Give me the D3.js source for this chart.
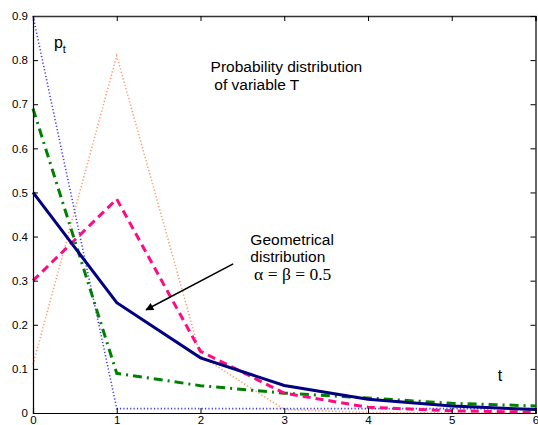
<!DOCTYPE html>
<html>
<head>
<meta charset="utf-8">
<script src="https://cdn.jsdelivr.net/npm/d3@7"></script>
<style>
  html, body { margin: 0; padding: 0; background: #fff; }
  svg { display: block; }
</style>
</head>
<body>
<script>
// ---- data ----
const tValues = [0, 1, 2, 3, 4, 5, 6];
const geometric = [0.5, 0.25, 0.125, 0.0625, 0.031, 0.0156, 0.0078];
const pinkSeries = [0.30, 0.485, 0.14, 0.045, 0.013, 0.005, 0.002];
const greenSeries = [0.69, 0.09, 0.062, 0.045, 0.034, 0.022, 0.016];
const blueSeries = [0.9, 0.01, 0.01, 0.01, 0.01, 0.01, 0.01];
const orangeSeries = [0.11, 0.81, 0.13, 0.008, 0.001, 0.0, 0.0];
const xTicks = [0, 1, 2, 3, 4, 5, 6];
const yTicks = [0, 0.1, 0.2, 0.3, 0.4, 0.5, 0.6, 0.7, 0.8, 0.9];

const W = 538, H = 425;
const margin = {left: 33, right: 2.5, top: 16, bottom: 12};

const svg = d3.select("body").append("svg").attr("width", W).attr("height", H);

const x = d3.scaleLinear().domain([0, 6]).range([margin.left, W - margin.right]);
const y = d3.scaleLinear().domain([0, 0.9]).range([H - margin.bottom, margin.top]);

const series = [
  {vals: orangeSeries, color: "#ff9a6a", width: 1.6, dash: "1.2,2.2"},
  {vals: blueSeries, color: "#3b3bff", width: 1.6, dash: "1.2,2.2"},
  {vals: greenSeries, color: "#008000", width: 3, dash: "9,5,2,5"},
  {vals: pinkSeries, color: "#ff0a84", width: 3, dash: "8,5"},
  {vals: geometric, color: "#000080", width: 3, dash: null}
];

const line = d3.line().x((d, i) => x(tValues[i])).y(d => y(d));

series.forEach(s => {
  const p = svg.append("path").datum(s.vals)
    .attr("d", line)
    .attr("fill", "none")
    .attr("stroke", s.color)
    .attr("stroke-width", s.width)
    .attr("stroke-linejoin", "miter");
  if (s.dash) p.attr("stroke-dasharray", s.dash);
});

// axes (box with inward ticks)
const font = "'Liberation Sans', Arial, sans-serif";
const gL = svg.append("g").attr("transform", `translate(${margin.left},0)`)
  .call(d3.axisLeft(y).tickValues(yTicks).tickSize(-5).tickPadding(5).tickFormat(d => d === 0 ? "0" : d3.format(".1f")(d)));
const gB = svg.append("g").attr("transform", `translate(0,${H - margin.bottom})`)
  .call(d3.axisBottom(x).tickValues(xTicks).tickSize(-5).tickPadding(3).tickFormat(d3.format("d")));
const gT = svg.append("g").attr("transform", `translate(0,${margin.top})`)
  .call(d3.axisTop(x).tickValues(xTicks).tickSize(-5).tickFormat(""));
const gR = svg.append("g").attr("transform", `translate(${W - margin.right},0)`)
  .call(d3.axisRight(y).tickValues(yTicks).tickSize(-5).tickFormat(""));

[gL, gB, gT, gR].forEach(g => {
  g.select(".domain").attr("stroke", "#000").attr("stroke-width", 1.2);
  g.selectAll(".tick line").attr("stroke", "#000").attr("stroke-width", 1);
  g.selectAll("text").attr("font-family", font).attr("font-size", 11.5).attr("fill", "#000");
});
gT.select(".domain").attr("stroke", "#333").attr("stroke-width", 1.5);

// annotations
const ann = svg.append("g").attr("font-family", font).attr("fill", "#000");

const pt = ann.append("text").attr("x", x(0.25)).attr("y", y(0.828)).attr("font-size", 16);
pt.append("tspan").text("p");
pt.append("tspan").attr("font-size", 11).attr("dy", 5).text("t");

ann.append("text").attr("x", x(2.12)).attr("y", y(0.772)).attr("font-size", 15.5).text("Probability distribution");
ann.append("text").attr("x", x(2.165)).attr("y", y(0.732)).attr("font-size", 15.5).text("of variable T");

ann.append("text").attr("x", x(2.595)).attr("y", y(0.381)).attr("font-size", 15.5).text("Geometrical");
ann.append("text").attr("x", x(2.595)).attr("y", y(0.342)).attr("font-size", 15.5).text("distribution");
ann.append("text").attr("x", x(2.64)).attr("y", y(0.301)).attr("font-size", 17.5)
  .attr("font-family", "'Liberation Serif', 'Times New Roman', serif").text("α = β = 0.5");

ann.append("text").attr("x", x(5.55)).attr("y", y(0.073)).attr("font-size", 16).text("t");

// arrow
svg.append("defs").append("marker")
  .attr("id", "ah").attr("viewBox", "0 0 10 10").attr("refX", 9).attr("refY", 5)
  .attr("markerWidth", 10).attr("markerHeight", 8).attr("markerUnits", "userSpaceOnUse")
  .attr("orient", "auto")
  .append("path").attr("d", "M0,0 L10,5 L0,10 z").attr("fill", "#000");

svg.append("line")
  .attr("x1", x(2.39)).attr("y1", y(0.338))
  .attr("x2", x(1.35)).attr("y2", y(0.234))
  .attr("stroke", "#000").attr("stroke-width", 1.5)
  .attr("marker-end", "url(#ah)");
</script>
</body>
</html>
